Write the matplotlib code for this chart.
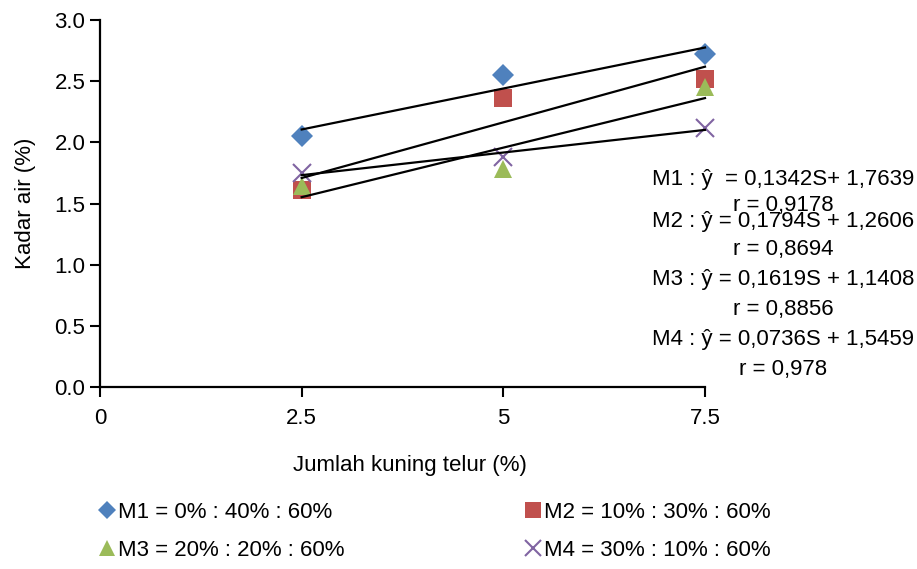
import numpy as np
import matplotlib
matplotlib.use("Agg")
import matplotlib.pyplot as plt
from matplotlib import font_manager

# Data
x_vals = [2.5, 5, 7.5]
m1 = [2.05, 2.55, 2.72]
m2 = [1.61, 2.36, 2.52]
m3 = [1.64, 1.78, 2.45]
m4 = [1.75, 1.88, 2.12]
labels = ["M1 = 0% : 40% : 60%", "M2 = 10% : 30% : 60%",
          "M3 = 20% : 20% : 60%", "M4 = 30% : 10% : 60%"]
eq_lines = ["M1 : ŷ  = 0,1342S+ 1,7639", "M2 : ŷ = 0,1794S + 1,2606",
            "M3 : ŷ = 0,1619S + 1,1408", "M4 : ŷ = 0,0736S + 1,5459"]
r_lines = ["r = 0,9178", "r = 0,8694", "r = 0,8856", "r = 0,978"]
x_ticks = [0, 2.5, 5, 7.5]
x_tick_labels = ["0", "2.5", "5", "7.5"]

# Font: narrow Arial look-alike if available
names = {f.name for f in font_manager.fontManager.ttflist}
font = "Liberation Sans Narrow" if "Liberation Sans Narrow" in names else "Liberation Sans"
plt.rcParams['font.family'] = [font, 'DejaVu Sans']

colors = ['#4F81BD', '#C0504D', '#9BBB59', '#8064A2']
markers = ['D', 's', '^', 'x']
sizes = [11, 13, 13, 13]

W, H = 917, 569
fig = plt.figure(figsize=(W / 100, H / 100), dpi=100)
ax = fig.add_axes([100 / W, 1 - 387 / H, 605 / W, 367 / H])

series = [m1, m2, m3, m4]
handles = []
for ys, c, mk, ms, lab in zip(series, colors, markers, sizes, labels):
    kw = dict(markeredgewidth=1.5) if mk == 'x' else dict(markeredgewidth=0)
    h, = ax.plot(x_vals, ys, linestyle='none', marker=mk, color=c,
                 markersize=ms, label=lab, clip_on=False, **kw)
    handles.append(h)
    # linear trendline
    k, b = np.polyfit(x_vals, ys, 1)
    xs = np.array([x_vals[0], x_vals[-1]])
    ax.plot(xs, k * xs + b, color='black', linewidth=1.6, zorder=3,
            clip_on=False)

ax.set_xlim(0, 7.5)
ax.set_ylim(0, 3.0)
ax.set_xticks(x_ticks)
ax.set_xticklabels(x_tick_labels)
ax.set_yticks(np.arange(0, 3.01, 0.5))
ax.set_yticklabels([f"{v:.1f}" for v in np.arange(0, 3.01, 0.5)])
ax.tick_params(labelsize=16, width=1.5, length=7, direction='out')
ax.tick_params(axis='x', pad=8)
for s in ['top', 'right']:
    ax.spines[s].set_visible(False)
for s in ['left', 'bottom']:
    ax.spines[s].set_linewidth(1.6)

ax.set_xlabel("Jumlah kuning telur (%)", fontsize=16)
ax.set_ylabel("Kadar air (%)", fontsize=16)
ax.xaxis.set_label_coords((410 - 100) / 605, -(465 - 387) / 367)
ax.xaxis.label.set_va('center')
ax.yaxis.set_label_coords(-(100 - 26) / 605, 0.5)
ax.yaxis.label.set_va('center')

# Equations
eq_y = [180, 221, 280, 340]
r_y = [205, 250, 310, 370]
for t, y in zip(eq_lines, eq_y):
    fig.text(783 / W, 1 - y / H, t, ha='center', va='center', fontsize=16)
for t, y in zip(r_lines, r_y):
    fig.text(783 / W, 1 - y / H, t, ha='center', va='center', fontsize=16)

order = [0, 2, 1, 3]
leg_handles = []
for i in order:
    h = handles[i]
    lh, = ax.plot([], [], linestyle='none', marker=h.get_marker(),
                  color=h.get_color(), markersize=h.get_markersize() * 0.85,
                  markeredgewidth=h.get_markeredgewidth())
    leg_handles.append(lh)
leg = fig.legend(leg_handles, [labels[i] for i in order],
                 ncol=2, frameon=False, fontsize=16, loc='upper left',
                 bbox_to_anchor=(100 / W, 1 - 502 / H), handlelength=0.6,
                 handletextpad=0.2, columnspacing=8.2, labelspacing=0.75,
                 borderaxespad=0, borderpad=0)

fig.savefig("out.png", dpi=100)
